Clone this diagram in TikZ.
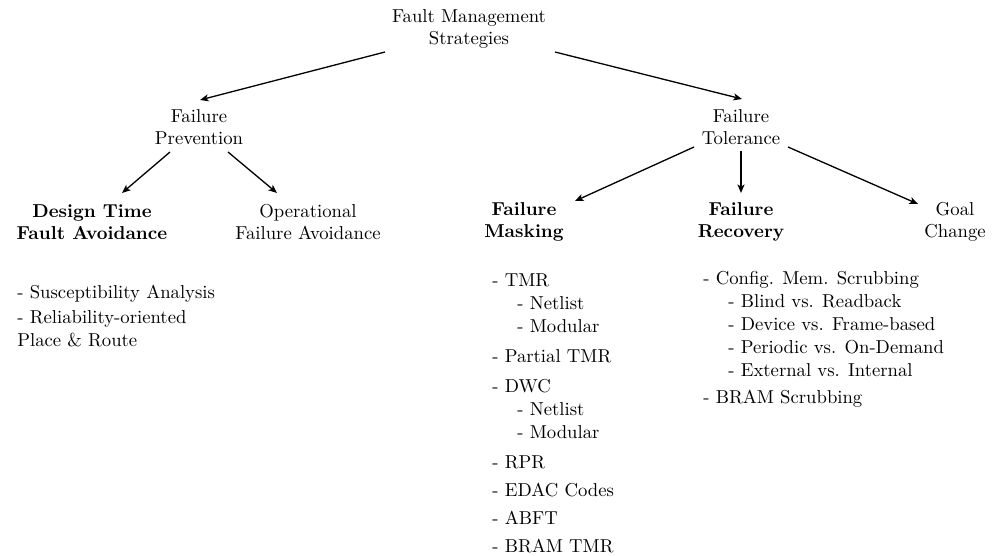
\documentclass[tikz,border=0pt]{standalone}
\usetikzlibrary{arrows.meta}
\begin{document}
\begin{tikzpicture}[x=0.535pt,y=-0.535pt,
  title/.style={align=center,inner sep=0pt},
  boldtitle/.style={align=center,inner sep=0pt,font=\bfseries},
  listitem/.style={anchor=base west,inner sep=0pt},
  conn/.style={-{Stealth[length=4.6pt,width=3.8pt,inset=1.2pt]},line width=0.7pt}]
\useasboundingbox (0,0) rectangle (992,556);
% level 0
\node[title] (root) at (469,29) {Fault Management\\Strategies};
% level 1
\node[title] (prev) at (199,127) {Failure\\Prevention};
\node[title] (tol) at (741,127) {Failure\\Tolerance};
% level 2
\node[boldtitle] (design) at (92,222) {Design Time\\Fault Avoidance};
\node[title] (oper) at (308,222) {Operational\\Failure Avoidance};
\node[boldtitle] (mask) at (524,222) {Failure\\Masking};
\node[boldtitle] (rec) at (741,222) {Failure\\Recovery};
\node[title] (goal) at (955,222) {Goal\\Change};
% connectors
\draw[conn] ([shift={(-84,23)}]root.center) -- ([shift={(1,-27)}]prev.center);
\draw[conn] ([shift={(86,23)}]root.center) -- ([shift={(1,-28)}]tol.center);
\draw[conn] ([shift={(-29,25)}]prev.center) -- ([shift={(30,-29)}]design.center);
\draw[conn] ([shift={(29,25)}]prev.center) -- ([shift={(-31,-29)}]oper.center);
\draw[conn] ([shift={(-47,20)}]tol.center) -- ([shift={(51,-21)}]mask.center);
\draw[conn] ([shift={(0,24)}]tol.center) -- ([shift={(0,-29)}]rec.center);
\draw[conn] ([shift={(47,20)}]tol.center) -- ([shift={(-37,-18)}]goal.center);
% design time list
\node[listitem] (s1) at (17,298) {- Susceptibility Analysis};
\node[listitem] (s2) at (17,323) {- Reliability-oriented};
\node[listitem] (s3) at (17,346) {Place \& Route};
% masking list
\node[listitem] (m1) at (492,286) {- TMR};
\node[listitem] (m2) at (517,309) {- Netlist};
\node[listitem] (m3) at (517,332) {- Modular};
\node[listitem] (m4) at (492,362) {- Partial TMR};
\node[listitem] (m5) at (492,392) {- DWC};
\node[listitem] (m6) at (517,415) {- Netlist};
\node[listitem] (m7) at (517,438) {- Modular};
\node[listitem] (m8) at (492,468) {- RPR};
\node[listitem] (m9) at (492,496) {- EDAC Codes};
\node[listitem] (m10) at (492,524) {- ABFT};
\node[listitem] (m11) at (492,552) {- BRAM TMR};
% recovery list
\node[listitem] (r1) at (703,284) {- Config. Mem. Scrubbing};
\node[listitem] (r2) at (728,307) {- Blind vs. Readback};
\node[listitem] (r3) at (728,330) {- Device vs. Frame-based};
\node[listitem] (r4) at (728,353) {- Periodic vs. On-Demand};
\node[listitem] (r5) at (728,376) {- External vs. Internal};
\node[listitem] (r6) at (703,403) {- BRAM Scrubbing};
\end{tikzpicture}
\end{document}
